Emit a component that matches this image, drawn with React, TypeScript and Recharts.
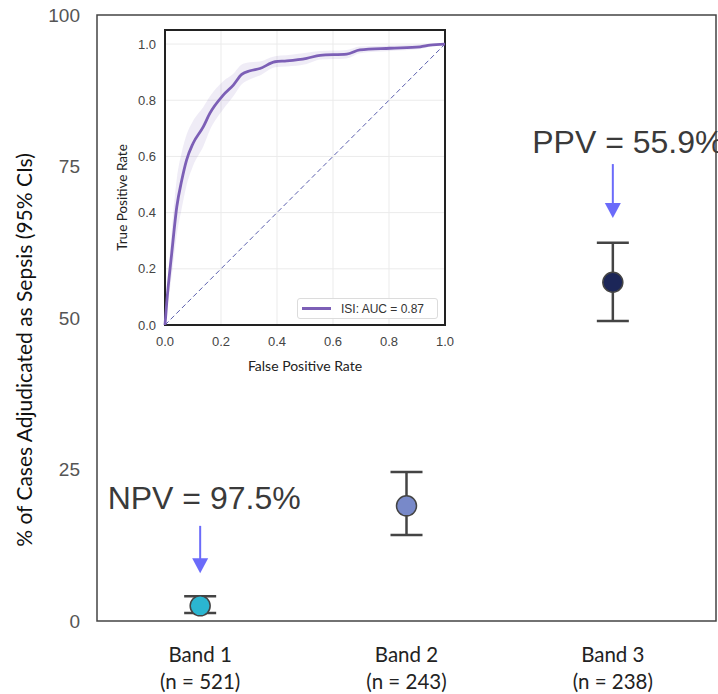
import React from 'react';
import {
  ComposedChart,
  Scatter,
  ErrorBar,
  XAxis,
  YAxis,
  ReferenceArea,
  ReferenceLine,
  ReferenceDot,
  Line,
  Area,
  CartesianGrid,
  Label,
} from 'recharts';

// ---------- main chart data ----------
const bands = ['Band 1', 'Band 2', 'Band 3'];
const bandCounts = ['(n = 521)', '(n = 243)', '(n = 238)'];
const pctSepsis = [2.5, 19.0, 55.9];
const ciLow = [1.3, 14.2, 49.5];
const ciHigh = [4.1, 24.6, 62.4];
const bandColors = ['#2bb6d1', '#7889c9', '#1c2658'];
const yTicks = [0, 25, 50, 75, 100];

// annotations
const annotationText = ['NPV = 97.5%', 'PPV = 55.9%'];
const annotationBand = ['Band 1', 'Band 3'];
const annotationTextY = [18.5, 77.2];
const arrowFrom = [15.7, 75.4];
const arrowTo = [7.9, 66.5];

// ---------- inset ROC data ----------
const rocFpr = [0, 0.006, 0.024, 0.042, 0.06, 0.077, 0.1, 0.137, 0.16, 0.208, 0.244, 0.274, 0.304, 0.339, 0.393, 0.435, 0.506, 0.554, 0.649, 0.696, 0.804, 0.911, 0.946, 1];
const rocTpr = [0, 0.077, 0.255, 0.42, 0.516, 0.587, 0.646, 0.706, 0.753, 0.818, 0.854, 0.892, 0.905, 0.913, 0.937, 0.94, 0.949, 0.96, 0.964, 0.979, 0.985, 0.99, 0.996, 1];
const rocLow = [0, 0.047, 0.175, 0.32, 0.416, 0.497, 0.566, 0.636, 0.693, 0.768, 0.814, 0.857, 0.875, 0.888, 0.917, 0.92, 0.929, 0.945, 0.949, 0.967, 0.975, 0.982, 0.991, 1];
const rocHigh = [0, 0.107, 0.335, 0.52, 0.616, 0.677, 0.726, 0.776, 0.813, 0.868, 0.894, 0.927, 0.935, 0.938, 0.957, 0.96, 0.969, 0.975, 0.979, 0.991, 0.995, 0.998, 1.0, 1];
const rocTicks = [0, 0.2, 0.4, 0.6, 0.8, 1.0];
const rocLegend = 'ISI: AUC = 0.87';

const mainData = bands.map((b, i) => ({
  band: b,
  value: pctSepsis[i],
  err: [pctSepsis[i] - ciLow[i], ciHigh[i] - pctSepsis[i]],
  color: bandColors[i],
}));

const rocData = rocFpr.map((f, i) => ({
  fpr: f,
  tpr: rocTpr[i],
  band: [rocLow[i], rocHigh[i]],
}));

const ARIAL = '"Liberation Sans", Arial, sans-serif';
const HUMANIST = 'Lato, "Open Sans", sans-serif';
const ARROW = '#6b6bfa';
const ROC = '#7c5fb6';

const BandTick = (props: any) => {
  const { x, y, payload, index } = props;
  return (
    <g>
      <text x={x} y={y + 39} textAnchor="middle" fontSize={20.5} fontFamily={HUMANIST} fill="#222">
        {payload.value}
      </text>
      <text x={x} y={y + 66} textAnchor="middle" fontSize={20.5} fontFamily={HUMANIST} fill="#222">
        {bandCounts[index]}
      </text>
    </g>
  );
};

const ArrowShape = (props: any) => {
  const { x1, y1, x2, y2 } = props;
  const head = 15;
  return (
    <g>
      <line x1={x1} y1={y1} x2={x2} y2={y2 - head + 1} stroke={ARROW} strokeWidth={2} />
      <polygon points={`${x2 - 8},${y2 - head} ${x2 + 8},${y2 - head} ${x2},${y2}`} fill={ARROW} />
    </g>
  );
};

const annotationDx = [4, 15];

const makeTextShape = (text: string, dx: number) => (props: any) => (
  <text
    x={props.cx + dx}
    y={props.cy}
    textAnchor="middle"
    fontSize={32}
    fontFamily={ARIAL}
    fill="#3a3a3a"
  >
    {text}
  </text>
);

const Dot = (props: any) => {
  const { cx, cy, payload } = props;
  return <circle cx={cx} cy={cy} r={10} fill={payload.color} stroke="#444" strokeWidth={1.5} />;
};

export default function App() {
  return (
    <div style={{ position: 'absolute', left: 0, top: 0, width: 718, height: 694, background: '#fff' }}>
      <ComposedChart
        width={718}
        height={694}
        data={mainData}
        margin={{ top: 15, right: 2, bottom: 0, left: 0 }}
      >
        <XAxis
          dataKey="band"
          type="category"
          scale="band"
          height={73}
          axisLine={false}
          tickLine={false}
          tickSize={0}
          tick={<BandTick />}
          interval={0}
        />
        <YAxis
          type="number"
          domain={[0, 100]}
          ticks={yTicks}
          width={97}
          axisLine={false}
          tickLine={false}
          tickSize={0}
          tickMargin={17}
          tick={{ fontSize: 19, fill: '#555', fontFamily: ARIAL }}
        >
          <Label
            content={(p: any) => {
              const vb = p.viewBox || { x: 0, y: 15, width: 97, height: 606 };
              const x = vb.x + 23;
              const y = vb.y + vb.height / 2 + 32;
              return (
                <text
                  x={x}
                  y={y}
                  transform={`rotate(-90, ${x}, ${y})`}
                  textAnchor="middle"
                  dominantBaseline="central"
                  fontSize={21}
                  fontFamily={HUMANIST}
                  fill="#111"
                >
                  % of Cases Adjudicated as Sepsis (95% CIs)
                </text>
              );
            }}
          />
        </YAxis>
        <ReferenceArea y1={0} y2={100} fill="none" stroke="#444" strokeWidth={1.5} ifOverflow="visible" />
        {annotationBand.map((b, i) => (
          <ReferenceLine
            key={'arr' + i}
            segment={[
              { x: b, y: arrowFrom[i] },
              { x: b, y: arrowTo[i] },
            ]}
            shape={ArrowShape}
            ifOverflow="visible"
          />
        ))}
        {annotationBand.map((b, i) => (
          <ReferenceDot
            key={'txt' + i}
            x={b}
            y={annotationTextY[i]}
            r={0}
            ifOverflow="visible"
            shape={makeTextShape(annotationText[i], annotationDx[i])}
          />
        ))}
        <Scatter dataKey="value" isAnimationActive={false} shape={<Dot />}>
          <ErrorBar dataKey="err" direction="y" width={16} stroke="#444" strokeWidth={2.5} />
        </Scatter>
      </ComposedChart>

      {/* inset ROC chart */}
      <div style={{ position: 'absolute', left: 100, top: 20, width: 360, height: 360 }}>
        <ComposedChart
          width={360}
          height={360}
          data={rocData}
          margin={{ top: 10, right: 15, bottom: 0, left: 0 }}
        >
          <CartesianGrid stroke="#ebebeb" strokeWidth={1} />
          <XAxis
            dataKey="fpr"
            type="number"
            domain={[0, 1]}
            ticks={rocTicks}
            tickFormatter={(v: number) => v.toFixed(1)}
            height={55}
            axisLine={false}
            tickLine={false}
            tickSize={0}
            tickMargin={12}
            tick={{ fontSize: 13, fill: '#444', fontFamily: ARIAL }}
          >
            <Label
              value="False Positive Rate"
              position="insideBottom"
              offset={9}
              fontSize={14}
              fontFamily={HUMANIST}
              fill="#222"
            />
          </XAxis>
          <YAxis
            type="number"
            domain={[0, 1.05]}
            ticks={rocTicks}
            tickFormatter={(v: number) => v.toFixed(1)}
            width={65}
            axisLine={false}
            tickLine={false}
            tickSize={0}
            tickMargin={9}
            allowDataOverflow
            tick={{ fontSize: 13, fill: '#444', fontFamily: ARIAL }}
          >
            <Label
              content={(p: any) => {
                const vb = p.viewBox || { x: 0, y: 10, width: 65, height: 295 };
                const x = vb.x + 22;
                const y = vb.y + vb.height / 2 + 20;
                return (
                  <text
                    x={x}
                    y={y}
                    transform={`rotate(-90, ${x}, ${y})`}
                    textAnchor="middle"
                    dominantBaseline="central"
                    fontSize={13.5}
                    fontFamily={HUMANIST}
                    fill="#222"
                  >
                    True Positive Rate
                  </text>
                );
              }}
            />
          </YAxis>
          <Area
            dataKey="band"
            type="monotone"
            fill={ROC}
            fillOpacity={0.12}
            stroke="none"
            isAnimationActive={false}
          />
          <ReferenceLine
            segment={[
              { x: 0, y: 0 },
              { x: 1, y: 1 },
            ]}
            stroke="#5b5fae"
            strokeDasharray="5 3"
            strokeWidth={1}
          />
          <Line
            dataKey="tpr"
            type="monotone"
            stroke={ROC}
            strokeWidth={2.8}
            dot={false}
            isAnimationActive={false}
          />
          <ReferenceArea
            x1={0}
            x2={1}
            y1={0}
            y2={1.05}
            fill="none"
            stroke="#222"
            strokeWidth={2}
            ifOverflow="visible"
          />
        </ComposedChart>
        <div
          style={{
            position: 'absolute',
            left: 197,
            top: 278,
            width: 139,
            height: 19,
            border: '1px solid #dcdcdc',
            borderRadius: 3,
            background: 'rgba(255,255,255,0.85)',
            display: 'flex',
            alignItems: 'center',
            fontFamily: ARIAL,
            fontSize: 12,
            color: '#333',
          }}
        >
          <div style={{ width: 29, height: 2.5, background: ROC, marginLeft: 4, marginRight: 10 }} />
          <span>{rocLegend}</span>
        </div>
      </div>
    </div>
  );
}
